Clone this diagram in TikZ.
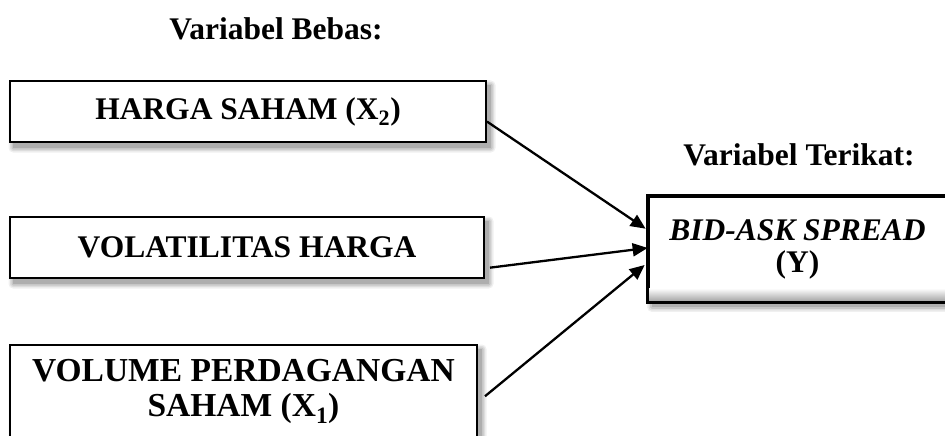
\documentclass[tikz,border=0pt]{standalone}
\usepackage{fontspec}
\setmainfont{Liberation Serif}
\usetikzlibrary{arrows.meta,calc}
\pgfdeclarelayer{background}
\pgfdeclarelayer{paper}
\pgfsetlayers{paper,background,main}
\newcommand\softshadow[1]{%
  \begin{pgfonlayer}{background}
    \foreach \e/\o in {0/0.12,1.5/0.10,3/0.08,4.5/0.06}{%
      \fill[black,opacity=\o,rounded corners=\e pt]
        ($(#1.north west)+(4-\e,5-\e)$) rectangle ($(#1.south east)+(4+\e,5+\e)$);
    }
  \end{pgfonlayer}}
\begin{document}
\begin{tikzpicture}[x=1pt,y=-1pt,
  box/.style={draw=black,line width=2pt,fill=white,inner sep=0pt,
    font=\fontsize{31.5}{35}\selectfont\bfseries,align=center},
  title/.style={font=\fontsize{31.5}{35}\selectfont\bfseries,inner sep=0pt,anchor=base},
  arr/.style={line width=2.3pt,-{Triangle[length=15pt,width=13pt]}}
]
\useasboundingbox (0,0) rectangle (945,436);
\begin{pgfonlayer}{paper}
\fill[white] (0,0) rectangle (945,436);
\end{pgfonlayer}
\node[title] (t1) at (276,40) {Variabel Bebas:};
\node[title] (t2) at (799,165) {Variabel Terikat:};

\node[box,minimum width=476pt,minimum height=61pt] (b1) at (248,111.5) {HARGA SAHAM (X\textsubscript{2})};
\node[box,minimum width=474pt,minimum height=61pt] (b2) at (247,247.5) {VOLATILITAS HARGA};
\node[box,minimum width=467pt,minimum height=93pt,
  font=\fontsize{33.5}{35}\selectfont\bfseries] (b3) at (243.5,391.5) {VOLUME PERDAGANGAN\\SAHAM (X\textsubscript{1})};
\node[box,line width=2.7pt,minimum width=297pt,minimum height=104pt,
  font=\fontsize{31.5}{32}\selectfont\bfseries] (Y) at (797.5,249) {\phantom{(}\\\phantom{(}};
\shade[top color=white,bottom color=gray!70]
  ($(Y.south west)+(1.4,-14)$) rectangle ($(Y.south east)+(-1.4,-1.4)$);
\draw[line width=2.7pt] (Y.north west) rectangle (Y.south east);
\node[inner sep=0pt,align=center,font=\fontsize{31.5}{32}\selectfont\bfseries] (Ytext) at (Y.center)
  {\textit{BID-ASK SPREAD}\\(Y)};

\softshadow{b1}
\softshadow{b2}
\softshadow{b3}
\softshadow{Y}

\draw[arr] ($(b1.north east)!0.66!(b1.south east)$) -- ($(Y.north west)!0.31!(Y.south west)+(-2,0)$);
\draw[arr] ($(b2.north east)!0.82!(b2.south east)+(5,0)$) -- ($(Y.north west)!0.49!(Y.south west)$);
\draw[arr] ($(b3.north east)!0.55!(b3.south east)+(7,0)$) -- ($(Y.north west)!0.65!(Y.south west)+(-3,0)$);
\end{tikzpicture}
\end{document}
